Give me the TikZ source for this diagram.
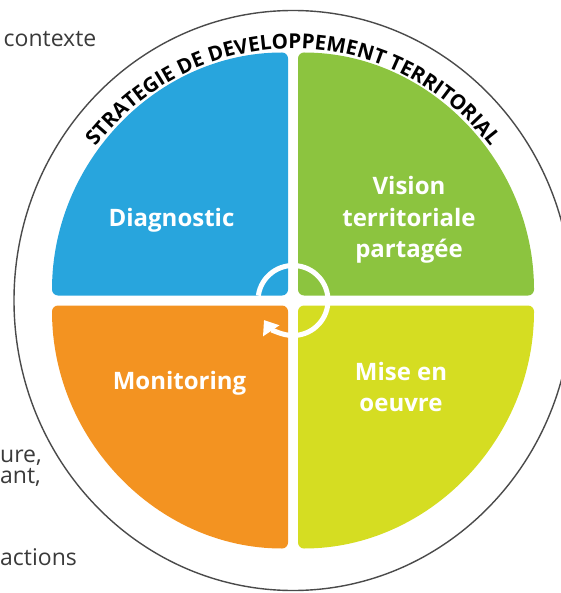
\documentclass[tikz,border=0pt]{standalone}
\usepackage{fontspec}
\setmainfont{Open Sans}
\usetikzlibrary{arrows.meta, decorations.text, calc}
\definecolor{diagblue}{HTML}{28A5DD}
\definecolor{visgreen}{HTML}{8CC43F}
\definecolor{monorange}{HTML}{F39321}
\definecolor{miseyellow}{HTML}{D5DD22}
\definecolor{sidegray}{HTML}{3A3A3A}
\definecolor{ringgray}{HTML}{4A4A4A}

\begin{document}
\begin{tikzpicture}[x=1pt, y=1pt,
    quadrant/.style={fill=#1, rounded corners=6pt},
    phase/.style={text=white, 
      align=center, 
      inner sep=0pt, 
      font=\fontsize{24}{31.5}\selectfont\bfseries},
    sidetext/.style={text=sidegray, 
      anchor=base west, 
      inner sep=0pt, 
      font=\fontsize{23}{25}\selectfont},
    roundarrow/.style={draw=white, 
      line width=5pt, 
      -{Triangle[length=13pt, width=19pt]}}]
  \useasboundingbox (0,0) rectangle (560,-593);

% QUADRANTS

  \coordinate (ctr) at (293,-300.5);

  \fill[quadrant=diagblue] ($(ctr)+(-5,5)$) -- ++(-236,0) 
  arc[start angle=180, end angle=90, x radius=236, y radius=243] -- cycle;

  \fill[quadrant=visgreen] ($(ctr)+(5,5)$) -- ++(236,0) 
  arc[start angle=0, end angle=90, x radius=236, y radius=243] -- cycle;

  \fill[quadrant=monorange] ($(ctr)+(-5,-5)$) -- ++(-236,0) 
  arc[start angle=180, end angle=270, x radius=236, y radius=243] -- cycle;

  \fill[quadrant=miseyellow] ($(ctr)+(5,-5)$) -- ++(236,0) 
  arc[start angle=0, end angle=-90, x radius=236, y radius=243] -- cycle;

  % OUTER RING AND TITLE

  \draw[ringgray, line width=1.4pt] (ctr) ellipse [x radius=279, y radius=290];

  \path[decorate, decoration={text along path, 
      text align=center, 
      text={|\fontsize{20.5}{20.5}\selectfont\bfseries|STRATEGIE DE DEVELOPPEMENT TERRITORIAL}}] 
  ($(ctr)+(158:249 and 252)$) 
  arc[start angle=158, end angle=22, x radius=249, y radius=252];

  % CYCLE

  \draw[roundarrow] ($(ctr)+(172:35)$) 
  arc[start angle=172, end angle=-146, radius=35];

  % LABELS

  \node[phase, anchor=base] (diagnostic) at (171.5,-227) {Diagnostic};
  \node[phase] (vision) at (409,-220) {Vision\\territoriale\\partagée};
  \node[phase, anchor=base] (monitoring) at (179.5,-389) {Monitoring};
  \node[phase] (miseenoeuvre) at (401,-387) {Mise en\\oeuvre};

  \node[sidetext] (contexte) at (3.5,-47) {contexte};
  \node[sidetext] (ure) at (0,-462) {ure,};
  \node[sidetext] (ant) at (0,-483) {ant,};
  \node[sidetext] (actions) at (0,-565) {actions};

\end{tikzpicture}
\end{document}
